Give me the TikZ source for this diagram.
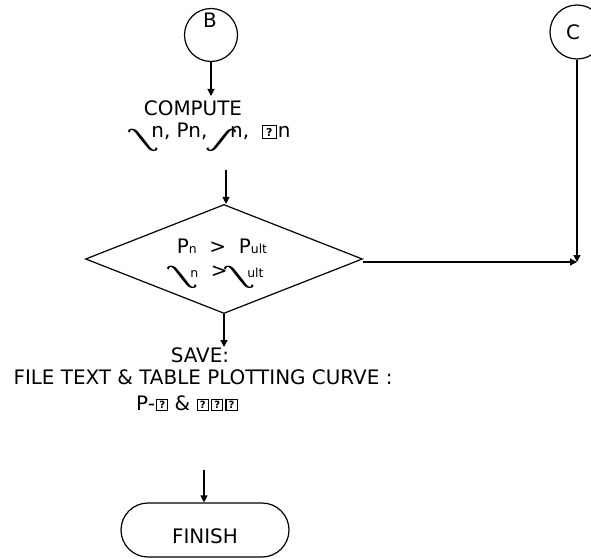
\documentclass[tikz,border=0pt]{standalone}
\usepackage{fontspec}
\setmainfont{DejaVu Sans}
\newfontfamily\symf{Liberation Serif}
\usetikzlibrary{shapes.geometric,shapes.misc,arrows.meta}
\newcommand\qbox[3]{{\fboxsep=0pt\fboxrule=1.2bp\fbox{\vbox to #2{\vss\hbox to #1{\hss\fontsize{#3}{#3}\selectfont\bfseries ?\hss}\vss}}}}
\newcommand\wavR{\raisebox{-3bp}{\scalebox{1.7}{\rotatebox{-38}{\symf ∫}}}}
\newcommand\wavL{\reflectbox{\wavR}}
\newcommand\smsub[1]{\raisebox{-1pt}{\fontsize{12.5}{12.5}\selectfont #1}}
\begin{document}
\begin{tikzpicture}[x=1bp,y=-1bp,
  every node/.style={font=\fontsize{20}{24}\selectfont, inner sep=0pt},
  txt/.style={anchor=base},
  line/.style={line width=1.2bp, draw=black},
  arr/.style={line, -{Triangle[length=7bp,width=7bp]}},
  conn/.style={circle, draw, line width=1.2bp, minimum size=53bp}]
\useasboundingbox (0,0) rectangle (591,559);

% circles
\node[conn] (B) at (211,35) {};
\node (Blab) at (210,20) {B};
\node[conn, minimum size=54bp] (C) at (577,32) {};
\node (Clab) at (573,32) {C};

% compute
\coordinate (c1) at (211,96);
\node[txt] (comp1) at (193,116) {COMPUTE};
\node[txt] (comp2) at (210,138) {\raisebox{-3bp}{\wavL}\kern-6bp n, Pn,\kern1bp\raisebox{-3bp}{\wavR}\kern-6bp n, \ \qbox{12.6bp}{11.6bp}{11}\kern1bp n};

% diamond
\coordinate (c2) at (226,170);
\node[diamond, line, aspect=2.54, minimum width=277bp, minimum height=109bp] (D) at (224,259) {};
\node[txt] (d1) at (222,253) {P\smsub{n} \ > \ P\smsub{ult}};
\node[txt] (d2) at (216,277) {\wavL\kern-6bp\smsub{n} \ >\kern-2bp\wavL\kern-6bp\smsub{ult}};
\coordinate (j) at (577,262);

% save
\coordinate (c3) at (222,347);
\node[txt] (s1) at (200,362) {SAVE:};
\node[txt] (s2) at (203,384) {FILE TEXT \& TABLE PLOTTING CURVE :};
\node[txt] (s3) at (187,410) {P-\kern1bp\qbox{10bp}{10bp}{10}\ \& \qbox{10bp}{10bp}{10}\kern2bp\qbox{10bp}{10bp}{10}\kern2bp\qbox{10bp}{10bp}{10}};

% finish
\coordinate (c4) at (204,470);
\node[rounded rectangle, line, minimum width=168bp, minimum height=54bp] (F) at (205,530) {};
\node[txt] (Flab) at (205,543) {FINISH};

% connectors
\draw[arr] (B.south) -- (c1);
\draw[arr] (c2) -- (c2 |- D.north);
\draw[arr] (D.east |- j) -- (j);
\draw[arr] (C.south) -- (j);
\draw[arr] (D.south) -- (D.south |- c3);
\draw[arr] (c4) -- (c4 |- F.north);
\end{tikzpicture}
\end{document}
